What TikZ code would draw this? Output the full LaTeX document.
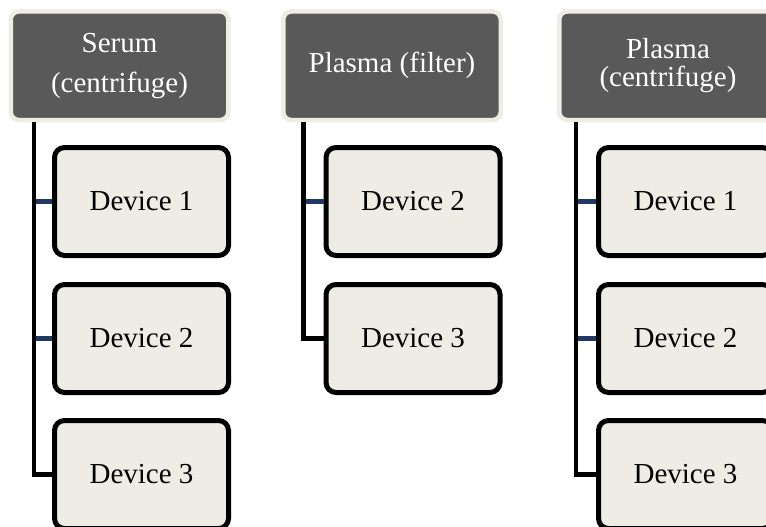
\documentclass[tikz,border=0pt]{standalone}
\usepackage{fontspec}
\setmainfont{Liberation Serif}
\definecolor{hdrfill}{HTML}{595959}
\definecolor{tan}{HTML}{EEECE4}
\definecolor{navy}{HTML}{1F3864}
\tikzset{
  hdr/.style={draw=tan, fill=hdrfill, line width=4.5pt, rounded corners=8pt,
    minimum width=217.5pt, minimum height=108.5pt, text=white, align=center, inner sep=0pt},
  devbox/.style={draw=black, fill=tan, line width=5pt, rounded corners=10pt,
    minimum width=174pt, minimum height=108pt, align=center, inner sep=0pt,
    font=\fontsize{29}{34}\selectfont},
  trunk/.style={draw=black, line width=4.5pt},
  branch/.style={draw=navy, line width=4.5pt}
}
\begin{document}
\begin{tikzpicture}[x=1pt,y=-1pt]
\useasboundingbox[fill=white] (0,0) rectangle (766,527);
\clip (0,0) rectangle (766,527);
% headers
\node[hdr, font=\fontsize{29}{40}\selectfont] (h1) at (119.5,65.75) {Serum\\(centrifuge)};
\node[hdr, font=\fontsize{29}{34}\selectfont] (h2) at (392,65.75) {Plasma (filter)};
\node[hdr, font=\fontsize{29}{28}\selectfont] (h3) at (668,65.75) {Plasma\\(centrifuge)};
% column 1
\node[devbox] (a1) at (141.5,201.5) {Device 1};
\node[devbox] (a2) at (141.5,338.5) {Device 2};
\node[devbox] (a3) at (141.5,474.5) {Device 3};
% column 2
\node[devbox] (b2) at (413,201.5) {Device 2};
\node[devbox] (b3) at (413,338.5) {Device 3};
% column 3
\node[devbox] (c1) at (685.5,201.5) {Device 1};
\node[devbox] (c2) at (685.5,338.5) {Device 2};
\node[devbox] (c3) at (685.5,474.5) {Device 3};
% connectors column 1
\draw[trunk] ([xshift=-18pt]a1.west |- h1.south) |- (a3.west);
\draw[branch] ([xshift=-16pt]a1.west) -- (a1.west);
\draw[branch] ([xshift=-16pt]a2.west) -- (a2.west);
% column 2
\draw[trunk] ([xshift=-20pt]b2.west |- h2.south) |- (b3.west);
\draw[branch] ([xshift=-18pt]b2.west) -- (b2.west);
% column 3
\draw[trunk] ([xshift=-20pt]c1.west |- h3.south) |- (c3.west);
\draw[branch] ([xshift=-18pt]c1.west) -- (c1.west);
\draw[branch] ([xshift=-18pt]c2.west) -- (c2.west);
\end{tikzpicture}
\end{document}
